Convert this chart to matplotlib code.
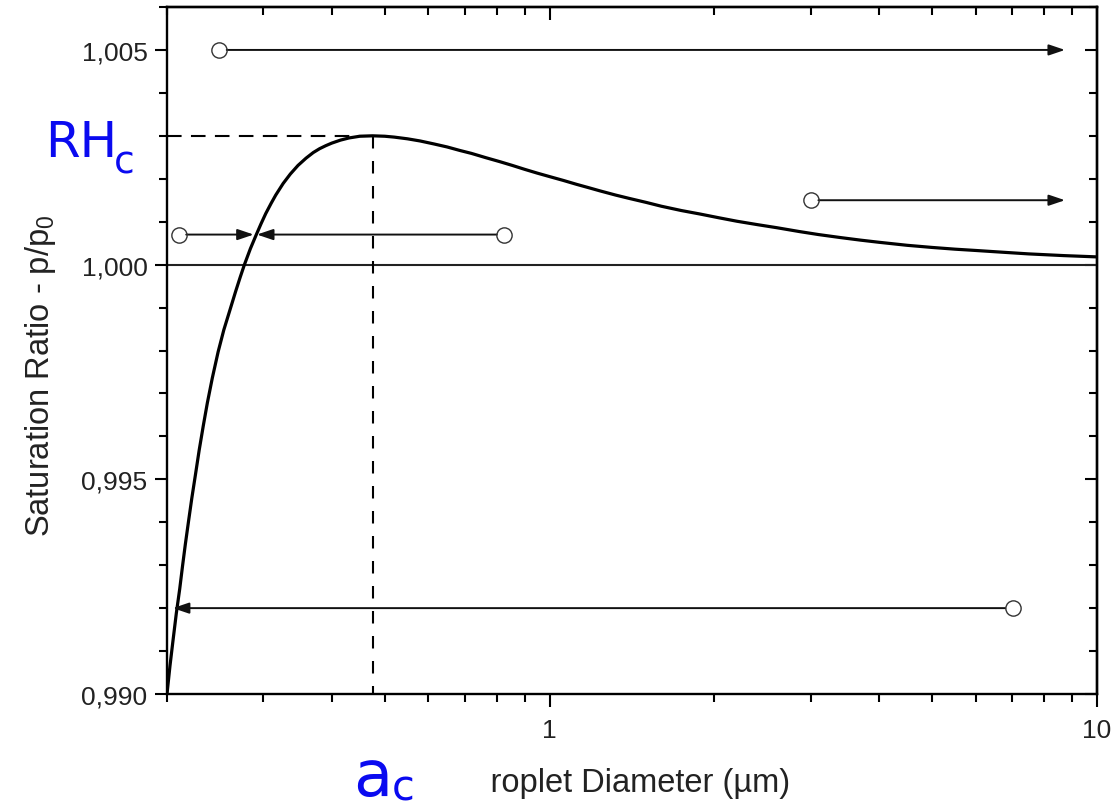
import matplotlib
matplotlib.use("Agg")
import matplotlib.pyplot as plt
from matplotlib.ticker import LogLocator, MultipleLocator, FuncFormatter, NullFormatter
from matplotlib.patches import Rectangle

plt.rcParams['font.family'] = ['Liberation Sans', 'DejaVu Sans']
plt.rcParams['mathtext.default'] = 'regular'

# Koehler curve
diameter = [0.200, 0.2025, 0.205, 0.208, 0.211, 0.2135, 0.216, 0.219, 0.222, 0.2255,
            0.229, 0.233, 0.237, 0.242, 0.248, 0.254, 0.260, 0.267, 0.272, 0.277,
            0.284, 0.291, 0.297, 0.303, 0.310, 0.316, 0.326, 0.336, 0.347, 0.359,
            0.370, 0.380, 0.390, 0.400, 0.415, 0.430, 0.450, 0.475, 0.500, 0.520,
            0.550, 0.580, 0.615, 0.650, 0.685, 0.720, 0.765, 0.810, 0.855, 0.900,
            0.950, 1.000, 1.060, 1.120, 1.180, 1.234, 1.320, 1.400, 1.500, 1.600,
            1.740, 1.880, 2.040, 2.200, 2.400, 2.600, 2.860, 3.100, 3.400, 3.700,
            4.000, 4.500, 5.000, 5.500, 6.000, 6.700, 7.500, 8.700, 10.00]
ratio = [0.99000, 0.99065, 0.99122, 0.99188, 0.99245, 0.99298, 0.99348, 0.99403, 0.99456, 0.99512,
         0.99568, 0.99625, 0.99678, 0.99736, 0.99797, 0.99848, 0.99890, 0.99938, 0.99970, 1.00000,
         1.00037, 1.00069, 1.00095, 1.00119, 1.00143, 1.00162, 1.00189, 1.00211, 1.00231, 1.00248,
         1.00261, 1.00270, 1.00277, 1.00283, 1.00290, 1.00295, 1.00299, 1.00300, 1.00299, 1.00297,
         1.00293, 1.00288, 1.00281, 1.00274, 1.00266, 1.00259, 1.00249, 1.00240, 1.00231, 1.00222,
         1.00213, 1.00205, 1.00196, 1.00187, 1.00179, 1.00172, 1.00162, 1.00154, 1.00145, 1.00136,
         1.00126, 1.00118, 1.00109, 1.00101, 1.00093, 1.00086, 1.00077, 1.00070, 1.00063, 1.00057,
         1.00052, 1.00045, 1.00040, 1.00036, 1.00033, 1.00029, 1.00025, 1.00021, 1.00018]

# critical point
d_crit = 0.475
rh_crit = 1.003

# arrows: start (circle) -> end (arrow tip)
arrow_start_x = [0.249, 0.210, 0.827, 3.00, 7.02]
arrow_end_x = [8.74, 0.288, 0.292, 8.74, 0.205]
arrow_y = [1.005, 1.0007, 1.0007, 1.0015, 0.992]

yticks_major = [0.990, 0.995, 1.000, 1.005]

fig = plt.figure(figsize=(11.16, 8.12), dpi=100)
ax = fig.add_axes([167/1116, 1 - 695/812, 930/1116, 687/812])

ax.plot(diameter, ratio, color='black', lw=2.3, zorder=4, solid_joinstyle='round')
ax.axhline(1.0, color='#222222', lw=1.5, zorder=2)

ax.plot([0.2, d_crit], [rh_crit, rh_crit], color='black', lw=1.5, dashes=(7, 4.5), zorder=3)
ax.plot([d_crit, d_crit], [rh_crit, 0.990], color='black', lw=1.5, dashes=(6, 6), zorder=3)

for x0, x1, y in zip(arrow_start_x, arrow_end_x, arrow_y):
    ax.annotate('', xy=(x1, y), xytext=(x0, y),
                arrowprops=dict(arrowstyle='-|>,head_length=0.65,head_width=0.22',
                                color='#111111', lw=1.4, mutation_scale=15,
                                shrinkA=5.5, shrinkB=0), zorder=5)
    ax.plot([x0], [y], marker='o', ms=11, mfc='none', mec='#333333', mew=1.0, zorder=5)

ax.set_xscale('log')
ax.set_xlim(0.2, 10)
ax.set_ylim(0.990, 1.006)

ax.xaxis.set_major_locator(LogLocator(base=10))
ax.xaxis.set_minor_locator(LogLocator(base=10, subs=[2, 3, 4, 5, 6, 7, 8, 9]))
ax.xaxis.set_major_formatter(FuncFormatter(lambda v, p: f'{v:g}'))
ax.xaxis.set_minor_formatter(NullFormatter())
ax.set_yticks(yticks_major)
ax.yaxis.set_minor_locator(MultipleLocator(0.001))
ax.yaxis.set_major_formatter(FuncFormatter(lambda v, p: f'{v:.3f}'.replace('.', ',')))

for s in ax.spines.values():
    s.set_linewidth(1.7)
ax.tick_params(which='major', direction='out', length=9, width=1.5, labelsize=19,
               labelcolor='#222222', pad=5)
ax.tick_params(which='minor', direction='out', length=5.5, width=1.5)
ax.tick_params(axis='x', which='major', pad=8)

top = ax.secondary_xaxis('top')
top.xaxis.set_minor_locator(LogLocator(base=10, subs=[2, 3, 4, 5, 6, 7, 8, 9]))
top.tick_params(which='major', direction='in', length=9, width=1.5, labeltop=False)
top.tick_params(which='minor', direction='in', length=5.5, width=1.5, labeltop=False)
top.xaxis.set_minor_formatter(NullFormatter())
top.spines['top'].set_linewidth(1.7)

right = ax.secondary_yaxis('right')
right.set_yticks(yticks_major)
right.yaxis.set_minor_locator(MultipleLocator(0.001))
right.tick_params(which='major', direction='in', length=9, width=1.5, labelright=False)
right.tick_params(which='minor', direction='in', length=5.5, width=1.5, labelright=False)
right.spines['right'].set_linewidth(1.7)

ax.set_ylabel('Saturation Ratio - p/p$_0$', fontsize=23.5, color='#222222')
ax.yaxis.set_label_coords(-0.117, 0.465)
ax.set_xlabel('Droplet Diameter (µm)', fontsize=23.5, color='#222222')
ax.xaxis.set_label_coords(0.496, -0.106)

# white patch over the lower-left corner (hides the "D")
fig.patches.append(Rectangle((0, 0), 489/1116, (812 - 742)/812, transform=fig.transFigure,
                             facecolor='white', edgecolor='none', zorder=1))

blue = '#0a0af0'
fig.text(45/1116, 1 - 157/812, 'RH', fontsize=36, color=blue, va='baseline', ha='left',
         family='DejaVu Sans', zorder=6)
fig.text(114/1116, 1 - 173/812, 'c', fontsize=27, color=blue, va='baseline', ha='left',
         family='DejaVu Sans', zorder=6)
fig.text(353/1116, 1 - 796/812, 'a', fontsize=46, color=blue, va='baseline', ha='left',
         family='DejaVu Sans', zorder=6)
fig.text(392/1116, 1 - 801/812, 'c', fontsize=30, color=blue, va='baseline', ha='left',
         family='DejaVu Sans', zorder=6)

fig.savefig('out.png', dpi=100)
